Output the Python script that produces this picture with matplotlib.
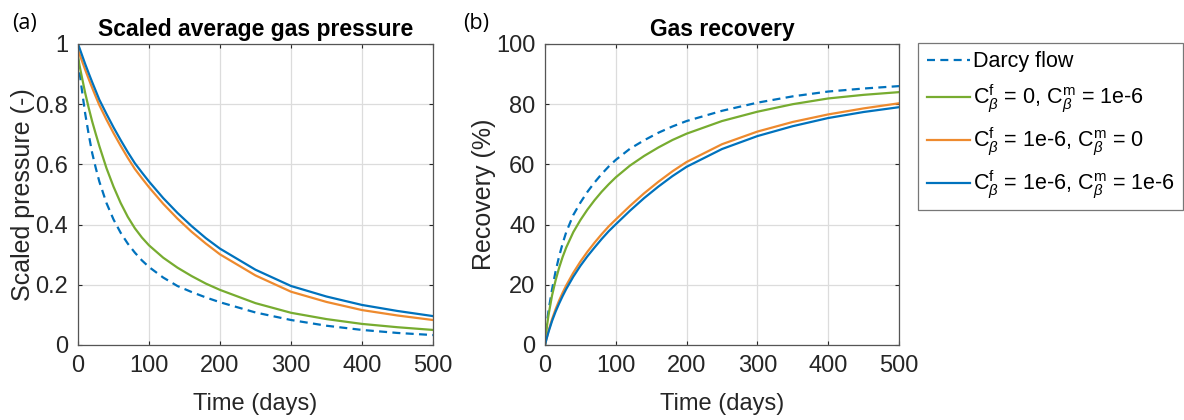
#!/usr/bin/env python3
"""Scaled average gas pressure and gas recovery vs time (two panels)."""

import matplotlib
matplotlib.use("Agg")
import matplotlib.pyplot as plt

# time axis shared by all series (days)
days = [0, 2, 5, 10, 15, 20, 25, 30, 40, 50, 60, 70, 80, 90, 100,
        120, 140, 160, 180, 200, 250, 300, 350, 400, 450, 500]

# scaled average pressure (-)
p_darcy = [0.95, 0.91, 0.855, 0.770, 0.700, 0.637, 0.588, 0.543, 0.472, 0.417,
           0.373, 0.337, 0.307, 0.281, 0.259, 0.224, 0.196, 0.176, 0.158,
           0.142, 0.108, 0.083, 0.064, 0.050, 0.040, 0.033]
p_mat = [0.96, 0.93, 0.895, 0.838, 0.788, 0.742, 0.701, 0.661, 0.588, 0.526,
         0.472, 0.426, 0.388, 0.357, 0.331, 0.290, 0.257, 0.229, 0.204,
         0.183, 0.139, 0.107, 0.086, 0.070, 0.059, 0.050]
p_frac = [0.98, 0.967, 0.947, 0.915, 0.884, 0.854, 0.825, 0.797, 0.749, 0.704,
          0.662, 0.622, 0.585, 0.554, 0.524, 0.469, 0.420, 0.376, 0.337,
          0.301, 0.231, 0.177, 0.143, 0.116, 0.098, 0.083]
p_both = [1.0, 0.987, 0.967, 0.934, 0.903, 0.873, 0.844, 0.815, 0.768, 0.723,
          0.681, 0.641, 0.604, 0.573, 0.543, 0.488, 0.439, 0.395, 0.355,
          0.320, 0.250, 0.196, 0.161, 0.133, 0.113, 0.096]

# gas recovery (%)
r_darcy = [0, 6, 11.5, 18.5, 24.5, 29.5, 33.8, 37.5, 43.2, 47.3, 50.9, 54.0,
           56.8, 59.3, 61.5, 65.2, 68.0, 70.5, 72.6, 74.4, 77.8, 80.5, 82.6,
           84.2, 85.2, 86.0]
r_mat = [0, 5, 10, 16.5, 21.5, 25.7, 29.3, 32.4, 37.5, 41.5, 45.0, 48.1,
         50.9, 53.4, 55.7, 59.6, 62.8, 65.6, 68.1, 70.2, 74.4, 77.5, 80.0,
         81.9, 83.1, 84.0]
r_frac = [0, 2.0, 4.7, 8.6, 11.9, 14.8, 17.4, 19.8, 24.0, 27.7, 31.0, 34.0,
          36.8, 39.4, 41.7, 46.2, 50.4, 54.2, 57.7, 60.8, 66.7, 70.9, 74.1,
          76.6, 78.6, 80.3]
r_both = [0, 1.85, 4.35, 8.0, 11.1, 13.8, 16.3, 18.6, 22.7, 26.3, 29.5, 32.4,
          35.2, 37.8, 40.1, 44.6, 48.8, 52.6, 56.1, 59.2, 65.1, 69.4, 72.7,
          75.4, 77.4, 79.0]

labels = [
    "Darcy flow",
    r"C$^{\mathrm{f}}_{\beta}$ = 0, C$^{\mathrm{m}}_{\beta}$ = 1e-6",
    r"C$^{\mathrm{f}}_{\beta}$ = 1e-6, C$^{\mathrm{m}}_{\beta}$ = 0",
    r"C$^{\mathrm{f}}_{\beta}$ = 1e-6, C$^{\mathrm{m}}_{\beta}$ = 1e-6",
]

BLUE = "#0072BD"
GREEN = "#77AC30"
ORANGE = "#EE8A2E"
INK = "#262626"

plt.rcParams["font.family"] = ["Liberation Sans", "DejaVu Sans"]
plt.rcParams["mathtext.fontset"] = "custom"
plt.rcParams["mathtext.rm"] = "Liberation Sans"
plt.rcParams["mathtext.it"] = "Liberation Sans:italic"


def style_axes(ax, ylim, yticks, ylabel, title, ypad):
    ax.set_xlim(0, 500)
    ax.set_ylim(*ylim)
    ax.set_xticks([0, 100, 200, 300, 400, 500])
    ax.set_yticks(yticks)
    ax.grid(True, color="#dcdcdc", linewidth=0.9)
    ax.set_axisbelow(True)
    ax.tick_params(direction="in", length=3, width=0.8, colors=INK,
                   labelsize=17, top=True, right=True, pad=7)
    for side in ax.spines.values():
        side.set_color("#555555")
        side.set_linewidth(0.9)
    ax.set_xlabel("Time (days)", fontsize=17, color=INK, labelpad=12)
    ax.set_ylabel(ylabel, fontsize=18, color=INK, labelpad=ypad)
    ax.set_title(title, fontsize=16.5, fontweight="bold", pad=6)


fig = plt.figure(figsize=(11.84, 4.2), dpi=100)
ax1 = fig.add_axes([0.0659, 0.1786, 0.2998, 0.7167])
ax2 = fig.add_axes([0.4603, 0.1786, 0.2990, 0.7167])

lw = 1.6
ax1.plot(days, p_darcy, color=BLUE, lw=lw, dashes=(3.6, 2.4))
ax1.plot(days, p_mat, color=GREEN, lw=lw)
ax1.plot(days, p_frac, color=ORANGE, lw=lw)
ax1.plot(days, p_both, color=BLUE, lw=lw)
style_axes(ax1, (0, 1), [0, 0.2, 0.4, 0.6, 0.8, 1],
           "Scaled pressure (-)", "Scaled average gas pressure", 0)
ax1.set_yticklabels(["0", "0.2", "0.4", "0.6", "0.8", "1"])

h1, = ax2.plot(days, r_darcy, color=BLUE, lw=lw, dashes=(3.6, 2.4))
h2, = ax2.plot(days, r_mat, color=GREEN, lw=lw)
h3, = ax2.plot(days, r_frac, color=ORANGE, lw=lw)
h4, = ax2.plot(days, r_both, color=BLUE, lw=lw)
style_axes(ax2, (0, 100), [0, 20, 40, 60, 80, 100],
           "Recovery (%)", "Gas recovery", 0)

leg = fig.legend([h1, h2, h3, h4], labels, loc="upper left",
                 bbox_to_anchor=(0.7753, 0.898), fontsize=15.5,
                 handlelength=2.0, handletextpad=0.15, labelspacing=0.5,
                 borderpad=0.4, borderaxespad=0, fancybox=False)
leg.get_frame().set_edgecolor("#555555")
leg.get_frame().set_linewidth(0.9)

fig.text(0.010, 0.93, "(a)", fontsize=15.5, family=["Open Sans", "DejaVu Sans"])
fig.text(0.391, 0.93, "(b)", fontsize=15.5, family=["Open Sans", "DejaVu Sans"])

fig.savefig("out.png", dpi=100)
plt.close(fig)
